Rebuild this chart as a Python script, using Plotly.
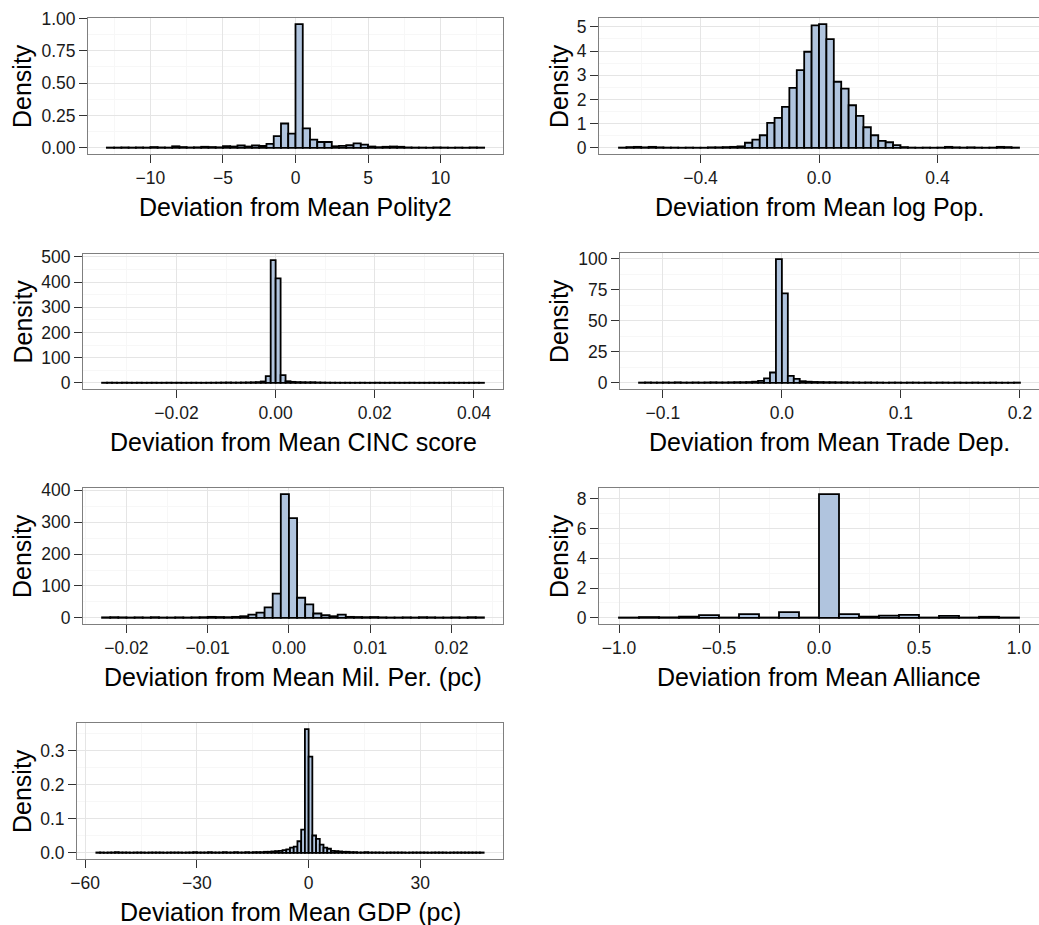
import plotly.graph_objects as go

W, H = 1039, 925

# ---------------- data (histogram densities) ----------------
polity_start, polity_binwidth = -13.0, 0.5
polity_density = [
    0.002, 0.002, 0.003, 0.002, 0.003, 0.002, 0.006, 0.003, 0.002, 0.012,
    0.006, 0.003, 0.004, 0.008, 0.006, 0.004, 0.013, 0.010, 0.018, 0.010,
    0.018, 0.014, 0.030, 0.090, 0.188, 0.110, 0.956, 0.150, 0.064, 0.045,
    0.045, 0.012, 0.015, 0.020, 0.034, 0.025, 0.010, 0.005, 0.008, 0.010,
    0.008, 0.003, 0.002, 0.002, 0.001, 0.003, 0.002, 0.001, 0.002, 0.001,
    0.003, 0.002,
]

logpop_start, logpop_binwidth = -0.675, 0.025
logpop_density = [
    0.01, 0.03, 0.04, 0.02, 0.04, 0.02, 0.01, 0.01, 0.005, 0.01,
    0.005, 0.005, 0.02, 0.02, 0.03, 0.04, 0.06, 0.21, 0.34, 0.52,
    1.03, 1.24, 1.69, 2.48, 3.21, 3.97, 5.06, 5.11, 4.49, 2.73,
    2.45, 1.76, 1.32, 0.85, 0.52, 0.29, 0.23, 0.11, 0.03, 0.01,
    0.005, 0.01, 0.005, 0.01, 0.04, 0.02, 0.01, 0.02, 0.01, 0.005,
    0.01, 0.04, 0.03, 0.01,
]

cinc_start, cinc_binwidth = -0.035, 0.001
cinc_density = [
    0.6, 0.8, 0.7, 0.5, 0.9, 0.6, 0.5, 0.7, 0.4, 0.5,
    0.6, 0.4, 0.5, 0.7, 0.5, 0.6, 0.4, 0.5, 0.6, 0.5,
    0.4, 0.6, 0.7, 0.9, 1.2, 1.5, 1.0, 1.1, 1.4, 1.8,
    2.2, 3.0, 5.5, 27.0, 487.0, 415.0, 31.0, 6.5, 4.0, 3.0,
    2.6, 2.2, 2.5, 1.6, 1.2, 0.9, 0.7, 0.6, 0.5, 0.6,
    0.4, 0.5, 0.6, 0.4, 0.5, 0.7, 0.5, 0.4, 0.6, 0.5,
    0.4, 0.5, 0.6, 0.4, 0.5, 0.4, 0.6, 0.5, 0.4, 0.5,
    0.6, 0.4, 0.5, 0.4, 0.5, 0.6, 0.4,
]

trade_start, trade_binwidth = -0.12, 0.005
trade_density = [
    0.2, 0.3, 0.2, 0.2, 0.3, 0.2, 0.4, 0.2, 0.2, 0.3,
    0.2, 0.3, 0.4, 0.3, 0.3, 0.4, 0.5, 0.5, 0.6, 0.9,
    1.5, 3.5, 8.3, 99.5, 72.0, 5.6, 3.2, 1.3, 0.9, 0.7,
    0.6, 0.5, 0.5, 0.4, 0.4, 0.3, 0.3, 0.2, 0.3, 0.2,
    0.2, 0.1, 0.2, 0.2, 0.1, 0.2, 0.2, 0.1, 0.2, 0.1,
    0.2, 0.2, 0.1, 0.2, 0.1, 0.1, 0.2, 0.1, 0.1, 0.2,
    0.1, 0.1, 0.1, 0.2,
]

milper_start, milper_binwidth = -0.023, 0.001
milper_density = [
    1.5, 2.0, 1.5, 1.0, 1.5, 1.0, 2.0, 1.0, 1.0, 1.5,
    1.0, 1.5, 2.0, 3.0, 2.5, 2.0, 3.0, 5.0, 10.0, 16.0,
    33.0, 76.0, 388.0, 313.0, 63.0, 42.0, 13.6, 8.0, 5.0, 10.0,
    3.0, 2.5, 2.0, 2.5, 1.5, 1.0, 1.0, 1.5, 1.0, 2.0,
    1.5, 1.0, 1.0, 1.5, 1.0, 2.0, 1.5,
]

alliance_start, alliance_binwidth = -1.0, 0.1
alliance_density = [
    0.02, 0.05, 0.03, 0.08, 0.18, 0.02, 0.25, 0.02, 0.38, 0.02,
    8.31, 0.25, 0.08, 0.15, 0.20, 0.02, 0.13, 0.02, 0.07, 0.02,
]

gdp_start, gdp_binwidth = -57.0, 1.0
gdp_density = [
    0.001, 0.001, 0.0005, 0.001, 0.001, 0.002, 0.001, 0.001, 0.001, 0.0005,
    0.001, 0.001, 0.001, 0.0005, 0.001, 0.001, 0.001, 0.001, 0.0005, 0.001,
    0.001, 0.001, 0.001, 0.0005, 0.001, 0.001, 0.002, 0.001, 0.001, 0.001,
    0.002, 0.001, 0.001, 0.001, 0.002, 0.001, 0.001, 0.002, 0.001, 0.001,
    0.002, 0.001, 0.002, 0.002, 0.002, 0.003, 0.003, 0.004, 0.005, 0.006,
    0.008, 0.010, 0.015, 0.018, 0.034, 0.068, 0.364, 0.283, 0.051, 0.041,
    0.024, 0.015, 0.012, 0.006, 0.005, 0.004, 0.003, 0.003, 0.002, 0.002,
    0.001, 0.001, 0.002, 0.001, 0.001, 0.001, 0.001, 0.0005, 0.001, 0.001,
    0.001, 0.001, 0.001, 0.0005, 0.001, 0.001, 0.001, 0.001, 0.001, 0.0005,
    0.001, 0.001, 0.001, 0.001, 0.0005, 0.001, 0.001, 0.001, 0.001, 0.001,
    0.001, 0.001, 0.001, 0.001,
]

titles = [
    "Deviation from Mean Polity2",
    "Deviation from Mean log Pop.",
    "Deviation from Mean CINC score",
    "Deviation from Mean Trade Dep.",
    "Deviation from Mean Mil. Per. (pc)",
    "Deviation from Mean Alliance",
    "Deviation from Mean GDP (pc)",
]

x_tick_values = [
    [-10, -5, 0, 5, 10],
    [-0.4, 0.0, 0.4],
    [-0.02, 0.0, 0.02, 0.04],
    [-0.1, 0.0, 0.1, 0.2],
    [-0.02, -0.01, 0.0, 0.01, 0.02],
    [-1.0, -0.5, 0.0, 0.5, 1.0],
    [-60, -30, 0, 30],
]
x_tick_labels = [
    ["−10", "−5", "0", "5", "10"],
    ["−0.4", "0.0", "0.4"],
    ["−0.02", "0.00", "0.02", "0.04"],
    ["−0.1", "0.0", "0.1", "0.2"],
    ["−0.02", "−0.01", "0.00", "0.01", "0.02"],
    ["−1.0", "−0.5", "0.0", "0.5", "1.0"],
    ["−60", "−30", "0", "30"],
]
y_tick_values = [
    [0, 0.25, 0.5, 0.75, 1.0],
    [0, 1, 2, 3, 4, 5],
    [0, 100, 200, 300, 400, 500],
    [0, 25, 50, 75, 100],
    [0, 100, 200, 300, 400],
    [0, 2, 4, 6, 8],
    [0, 0.1, 0.2, 0.3],
]
y_tick_labels = [
    ["0.00", "0.25", "0.50", "0.75", "1.00"],
    ["0", "1", "2", "3", "4", "5"],
    ["0", "100", "200", "300", "400", "500"],
    ["0", "25", "50", "75", "100"],
    ["0", "100", "200", "300", "400"],
    ["0", "2", "4", "6", "8"],
    ["0.0", "0.1", "0.2", "0.3"],
]

series = [
    (polity_start, polity_binwidth, polity_density),
    (logpop_start, logpop_binwidth, logpop_density),
    (cinc_start, cinc_binwidth, cinc_density),
    (trade_start, trade_binwidth, trade_density),
    (milper_start, milper_binwidth, milper_density),
    (alliance_start, alliance_binwidth, alliance_density),
    (gdp_start, gdp_binwidth, gdp_density),
]

# ---------------- layout (pixel boxes of each panel) ----------------
boxes = [
    (88, 18, 503, 154), (599, 18, 1039, 154),
    (83, 254, 503, 389), (620, 253, 1039, 389),
    (83, 488, 503, 624), (599, 488, 1039, 624),
    (77, 723, 503, 859),
]
ytitle_px = [22, 559, 22, 559, 22, 559, 22]
XTITLE_GAP = 53

FONT = "Liberation Sans, Arial, Helvetica, sans-serif"
TICK_SIZE = 17.5
TITLE_SIZE = 25
FILL = "#B0C4DE"
GRID_MAJOR = "#E5E5E5"
GRID_MINOR = "#F7F7F7"
BORDER = "#7F7F7F"


def minor_vals(vals, lo, hi):
    step = vals[1] - vals[0]
    out = []
    for v in [vals[0] - step / 2] + [a + step / 2 for a in vals]:
        if lo <= v <= hi:
            out.append(v)
    return out


fig = go.Figure()
layout = dict(
    template="none",
    width=W, height=H, margin=dict(l=0, r=0, t=0, b=0, pad=0, autoexpand=False),
    paper_bgcolor="white", plot_bgcolor="white", showlegend=False,
    font=dict(family=FONT, color="#1a1a1a"),
    annotations=[],
)

for k, ((start, bw, dens), box) in enumerate(zip(series, boxes)):
    n = len(dens)
    centers = [start + bw * (i + 0.5) for i in range(n)]
    suffix = "" if k == 0 else str(k + 1)
    xa, ya = "x" + suffix, "y" + suffix
    fig.add_trace(go.Bar(
        x=centers, y=dens, width=[bw] * n,
        marker=dict(color=FILL, line=dict(color="black", width=1.8)),
        xaxis=xa, yaxis=ya, hoverinfo="x+y",
    ))
    lo, hi = start, start + bw * n
    pad = 0.05 * (hi - lo)
    xr = [lo - pad, hi + pad]
    ymax = max(dens)
    yr = [-0.05 * ymax, 1.05 * ymax]
    l, t, r, b = box
    common = dict(
        automargin=False,
        showline=True, mirror=True, linecolor=BORDER, linewidth=1,
        ticks="outside", ticklen=8, tickwidth=1, tickcolor="#333333",
        tickfont=dict(family=FONT, size=TICK_SIZE, color="#1a1a1a"),
        showgrid=True, gridcolor=GRID_MAJOR, gridwidth=1,
        zeroline=False, tickmode="array", fixedrange=True,
    )
    layout["xaxis" + suffix] = dict(
        common, domain=[l / W, min(r / W, 1.0)], range=xr, anchor=ya,
        tickvals=x_tick_values[k], ticktext=x_tick_labels[k],
        minor=dict(tickvals=minor_vals(x_tick_values[k], *xr), showgrid=True,
                   gridcolor=GRID_MINOR, gridwidth=1, ticks=""),
    )
    layout["yaxis" + suffix] = dict(
        common, domain=[1 - b / H, 1 - t / H], range=yr, anchor=xa,
        tickvals=y_tick_values[k], ticktext=y_tick_labels[k],
        minor=dict(tickvals=minor_vals(y_tick_values[k], *yr), showgrid=True,
                   gridcolor=GRID_MINOR, gridwidth=1, ticks=""),
    )
    # x-axis title centred under the panel
    layout["annotations"].append(dict(
        text=titles[k], xref="paper", yref="paper",
        x=((l + min(r, 1040)) / 2) / W, y=1 - (b + XTITLE_GAP) / H,
        xanchor="center", yanchor="middle", showarrow=False,
        font=dict(family=FONT, size=TITLE_SIZE, color="black"),
    ))
    # y-axis title
    layout["annotations"].append(dict(
        text="Density", xref="paper", yref="paper",
        x=ytitle_px[k] / W, y=1 - ((t + b) / 2) / H, textangle=-90,
        xanchor="center", yanchor="middle", showarrow=False,
        font=dict(family=FONT, size=TITLE_SIZE, color="black"),
    ))

fig.update_layout(**layout)
fig.write_html(
    "out.html",
    config={"displayModeBar": False, "staticPlot": True},
    post_script="document.body.style.margin='0px';document.body.style.overflow='hidden';",
)
